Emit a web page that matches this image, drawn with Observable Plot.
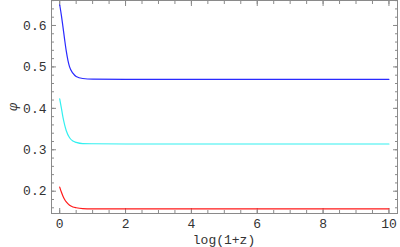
<!DOCTYPE html>
<html><head><meta charset="utf-8">
<script src="https://cdn.jsdelivr.net/npm/d3@7"></script>
<script src="https://cdn.jsdelivr.net/npm/@observablehq/plot@0.6"></script>
<style>
html,body{margin:0;padding:0;background:#fff;}
</style>
</head><body><div id="chart"></div>
<script>
const xTicks = [0, 2, 4, 6, 8, 10];
const yTicks = [0.2, 0.3, 0.4, 0.5, 0.6];
const xLabel = "log(1+z)";
const yLabel = "φ";

const blueX = [0, 0.05, 0.1, 0.15, 0.2, 0.25, 0.3, 0.4, 0.5, 0.7, 1, 2, 10];
const blueY = [0.650, 0.625, 0.596, 0.566, 0.538, 0.516, 0.500, 0.485, 0.477, 0.472, 0.4705, 0.470, 0.470];
const cyanX = [0, 0.05, 0.1, 0.15, 0.2, 0.3, 0.4, 0.5, 0.7, 1, 2, 10];
const cyanY = [0.423, 0.401, 0.378, 0.360, 0.346, 0.329, 0.321, 0.318, 0.315, 0.3145, 0.314, 0.314];
const redX = [0, 0.05, 0.1, 0.15, 0.2, 0.3, 0.4, 0.5, 0.7, 1, 2, 10];
const redY = [0.210, 0.198, 0.188, 0.180, 0.174, 0.166, 0.162, 0.160, 0.158, 0.1575, 0.1572, 0.1572];

const series = [
  {name: "blue", color: "#2a2aff", xs: blueX, ys: blueY},
  {name: "cyan", color: "#33f0f0", xs: cyanX, ys: cyanY},
  {name: "red", color: "#ff1a1a", xs: redX, ys: redY}
];
const data = series.flatMap(s => s.xs.map((x, i) => ({x, y: s.ys[i], s: s.name})));

const xMinor = d3.range(0, 10.01, 0.5);
const yMinor = d3.range(0.16, 0.661, 0.02).map(v => +v.toFixed(2));
const font = "'Liberation Mono', 'DejaVu Sans Mono', monospace";
const frameColor = "#8a8a8a";

const chart = Plot.plot({
  width: 400,
  height: 247,
  marginLeft: 51,
  marginRight: 3,
  marginTop: 0,
  marginBottom: 34,
  style: {fontFamily: font, fontSize: "13px", color: "#333", background: "#fff"},
  x: {domain: [-0.249, 10.26]},
  y: {domain: [0.1462, 0.6603]},
  marks: [
    Plot.frame({stroke: frameColor}),
    // minor ticks
    Plot.axisX(xMinor, {anchor: "bottom", tickSize: -3, text: null, label: null, stroke: frameColor}),
    Plot.axisX(xMinor, {anchor: "top", tickSize: -3, text: null, label: null, stroke: frameColor}),
    Plot.axisY(yMinor, {anchor: "left", tickSize: -3, text: null, label: null, stroke: frameColor}),
    Plot.axisY(yMinor, {anchor: "right", tickSize: -3, text: null, label: null, stroke: frameColor}),
    // major ticks
    Plot.axisX(xTicks, {anchor: "bottom", tickSize: -5, text: null, label: null, stroke: frameColor}),
    Plot.axisX(xTicks, {anchor: "top", tickSize: -5, text: null, label: null, stroke: frameColor}),
    Plot.axisY(yTicks, {anchor: "left", tickSize: -5, text: null, label: null, stroke: frameColor}),
    Plot.axisY(yTicks, {anchor: "right", tickSize: -5, text: null, label: null, stroke: frameColor}),
    // labels
    Plot.axisX(xTicks, {anchor: "bottom", tickSize: 0, tickPadding: 5, label: null, fill: "#333", tickFormat: d => String(d)}),
    Plot.axisY(yTicks, {anchor: "left", tickSize: 0, tickPadding: 5, label: null, fill: "#333", tickFormat: d => d.toFixed(1)}),
    Plot.line(data, {x: "x", y: "y", z: "s", stroke: d => series.find(s => s.name === d.s).color, strokeWidth: 1.2, curve: "monotone-x"})
  ]
});
chart.style.overflow = "visible";
const svg = d3.select(chart);
svg.append("text").attr("x", 51 + (397 - 51) / 2 - 0).attr("y", 244)
  .attr("text-anchor", "middle").attr("fill", "#333").attr("font-family", font).attr("font-size", 13)
  .text(xLabel);
svg.append("text").attr("transform", "translate(17,107) rotate(-90)")
  .attr("text-anchor", "middle").attr("fill", "#333").attr("font-family", "'DejaVu Serif', serif").attr("font-style", "italic").attr("font-size", 12)
  .text(yLabel);
document.getElementById("chart").appendChild(chart);
</script>
</body></html>
